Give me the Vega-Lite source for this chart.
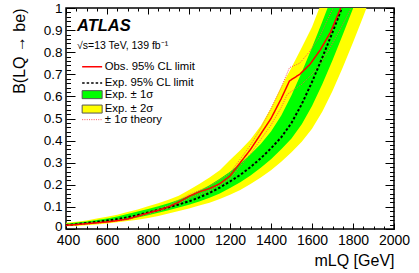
{
  "$schema": "https://vega.github.io/schema/vega-lite/v6.json",
  "width": 328,
  "height": 221,
  "autosize": {"type": "none"},
  "padding": {"left": 66, "top": 8, "right": 25, "bottom": 44},
  "background": "white",
  "config": {
    "font": "Liberation Sans",
    "view": {"stroke": "black", "strokeWidth": 1.5},
    "axis": {"grid": false, "domain": false, "tickColor": "black", "labelColor": "black", "titleColor": "black", "labelFont": "Liberation Sans", "titleFont": "Liberation Sans", "labelFontSize": 14, "titleFontSize": 15, "titleFontWeight": "normal", "tickWidth": 1, "labelOverlap": false, "labelFlush": false},
    "legend": {"orient": "none", "padding": 0, "labelFont": "Liberation Sans", "labelFontSize": 11.3, "labelColor": "black"}
  },
  "title": {"text": "ATLAS", "subtitle": "√s=13 TeV, 139 fb⁻¹", "anchor": "start", "frame": "group", "offset": -50, "dx": 11, "font": "Liberation Sans", "fontSize": 16.5, "fontStyle": "italic", "fontWeight": "bold", "color": "black", "subtitleFont": "Liberation Sans", "subtitleFontSize": 10.5, "subtitleColor": "black", "subtitlePadding": 6},
  "datasets": {
    "bands": [
      {"m": 400, "e": 0.018, "u1": 0.024, "l1": 0.015, "u2": 0.028, "l2": 0.012},
      {"m": 450, "e": 0.022, "u1": 0.029, "l1": 0.018, "u2": 0.033, "l2": 0.014},
      {"m": 500, "e": 0.027, "u1": 0.034, "l1": 0.022, "u2": 0.039, "l2": 0.017},
      {"m": 550, "e": 0.032, "u1": 0.041, "l1": 0.026, "u2": 0.047, "l2": 0.020},
      {"m": 600, "e": 0.038, "u1": 0.048, "l1": 0.031, "u2": 0.055, "l2": 0.025},
      {"m": 650, "e": 0.045, "u1": 0.057, "l1": 0.037, "u2": 0.065, "l2": 0.030},
      {"m": 700, "e": 0.053, "u1": 0.068, "l1": 0.044, "u2": 0.077, "l2": 0.036},
      {"m": 750, "e": 0.063, "u1": 0.079, "l1": 0.052, "u2": 0.088, "l2": 0.042},
      {"m": 800, "e": 0.075, "u1": 0.091, "l1": 0.062, "u2": 0.103, "l2": 0.050},
      {"m": 850, "e": 0.086, "u1": 0.103, "l1": 0.074, "u2": 0.117, "l2": 0.059},
      {"m": 900, "e": 0.098, "u1": 0.117, "l1": 0.085, "u2": 0.132, "l2": 0.070},
      {"m": 950, "e": 0.111, "u1": 0.132, "l1": 0.097, "u2": 0.151, "l2": 0.082},
      {"m": 1000, "e": 0.125, "u1": 0.151, "l1": 0.110, "u2": 0.177, "l2": 0.093},
      {"m": 1050, "e": 0.143, "u1": 0.173, "l1": 0.124, "u2": 0.204, "l2": 0.106},
      {"m": 1100, "e": 0.163, "u1": 0.198, "l1": 0.141, "u2": 0.233, "l2": 0.119},
      {"m": 1150, "e": 0.187, "u1": 0.227, "l1": 0.161, "u2": 0.266, "l2": 0.136},
      {"m": 1200, "e": 0.215, "u1": 0.259, "l1": 0.185, "u2": 0.312, "l2": 0.155},
      {"m": 1250, "e": 0.245, "u1": 0.296, "l1": 0.212, "u2": 0.356, "l2": 0.177},
      {"m": 1300, "e": 0.280, "u1": 0.338, "l1": 0.242, "u2": 0.405, "l2": 0.204},
      {"m": 1350, "e": 0.320, "u1": 0.385, "l1": 0.277, "u2": 0.467, "l2": 0.233},
      {"m": 1400, "e": 0.365, "u1": 0.441, "l1": 0.316, "u2": 0.548, "l2": 0.266},
      {"m": 1450, "e": 0.415, "u1": 0.514, "l1": 0.361, "u2": 0.645, "l2": 0.304},
      {"m": 1500, "e": 0.480, "u1": 0.605, "l1": 0.410, "u2": 0.731, "l2": 0.347},
      {"m": 1550, "e": 0.565, "u1": 0.709, "l1": 0.474, "u2": 0.821, "l2": 0.395},
      {"m": 1600, "e": 0.665, "u1": 0.821, "l1": 0.557, "u2": 0.914, "l2": 0.454},
      {"m": 1650, "e": 0.775, "u1": 0.938, "l1": 0.655, "u2": 1.034, "l2": 0.531},
      {"m": 1700, "e": 0.890, "u1": 1.058, "l1": 0.764, "u2": 1.154, "l2": 0.625},
      {"m": 1750, "e": 1.010, "u1": 1.178, "l1": 0.879, "u2": 1.274, "l2": 0.731},
      {"m": 1800, "e": 1.130, "u1": 1.298, "l1": 0.998, "u2": 1.394, "l2": 0.844},
      {"m": 1850, "e": 1.250, "u1": 1.418, "l1": 1.118, "u2": 1.514, "l2": 0.962},
      {"m": 1900, "e": 1.370, "u1": 1.538, "l1": 1.238, "u2": 1.634, "l2": 1.082},
      {"m": 1950, "e": 1.490, "u1": 1.658, "l1": 1.358, "u2": 1.754, "l2": 1.202},
      {"m": 2000, "e": 1.610, "u1": 1.778, "l1": 1.478, "u2": 1.874, "l2": 1.322}
    ],
    "lines": [
      {"part": "obs", "m": 400, "b": 0.017},
      {"part": "obs", "m": 450, "b": 0.020},
      {"part": "obs", "m": 500, "b": 0.024},
      {"part": "obs", "m": 550, "b": 0.028},
      {"part": "obs", "m": 600, "b": 0.032},
      {"part": "obs", "m": 650, "b": 0.038},
      {"part": "obs", "m": 700, "b": 0.045},
      {"part": "obs", "m": 750, "b": 0.058},
      {"part": "obs", "m": 800, "b": 0.072},
      {"part": "obs", "m": 850, "b": 0.085},
      {"part": "obs", "m": 900, "b": 0.100},
      {"part": "obs", "m": 950, "b": 0.122},
      {"part": "obs", "m": 1000, "b": 0.148},
      {"part": "obs", "m": 1050, "b": 0.168},
      {"part": "obs", "m": 1100, "b": 0.183},
      {"part": "obs", "m": 1150, "b": 0.205},
      {"part": "obs", "m": 1200, "b": 0.240},
      {"part": "obs", "m": 1250, "b": 0.300},
      {"part": "obs", "m": 1300, "b": 0.360},
      {"part": "obs", "m": 1350, "b": 0.430},
      {"part": "obs", "m": 1400, "b": 0.500},
      {"part": "obs", "m": 1450, "b": 0.590},
      {"part": "obs", "m": 1490, "b": 0.670},
      {"part": "obs", "m": 1540, "b": 0.700},
      {"part": "obs", "m": 1590, "b": 0.745},
      {"part": "obs", "m": 1640, "b": 0.810},
      {"part": "obs", "m": 1690, "b": 0.890},
      {"part": "obs", "m": 1740, "b": 1.000},
      {"part": "obs", "m": 1760, "b": 1.040},
      {"part": "tu", "m": 400, "b": 0.018},
      {"part": "tu", "m": 500, "b": 0.026},
      {"part": "tu", "m": 600, "b": 0.034},
      {"part": "tu", "m": 700, "b": 0.048},
      {"part": "tu", "m": 800, "b": 0.076},
      {"part": "tu", "m": 900, "b": 0.106},
      {"part": "tu", "m": 1000, "b": 0.156},
      {"part": "tu", "m": 1100, "b": 0.193},
      {"part": "tu", "m": 1200, "b": 0.253},
      {"part": "tu", "m": 1250, "b": 0.316},
      {"part": "tu", "m": 1300, "b": 0.380},
      {"part": "tu", "m": 1350, "b": 0.455},
      {"part": "tu", "m": 1400, "b": 0.545},
      {"part": "tu", "m": 1450, "b": 0.640},
      {"part": "tu", "m": 1490, "b": 0.730},
      {"part": "tu", "m": 1540, "b": 0.750},
      {"part": "tu", "m": 1590, "b": 0.805},
      {"part": "tu", "m": 1640, "b": 0.875},
      {"part": "tu", "m": 1700, "b": 0.995},
      {"part": "tu", "m": 1720, "b": 1.040},
      {"part": "td", "m": 400, "b": 0.016},
      {"part": "td", "m": 500, "b": 0.022},
      {"part": "td", "m": 600, "b": 0.030},
      {"part": "td", "m": 700, "b": 0.042},
      {"part": "td", "m": 800, "b": 0.068},
      {"part": "td", "m": 900, "b": 0.094},
      {"part": "td", "m": 1000, "b": 0.140},
      {"part": "td", "m": 1100, "b": 0.173},
      {"part": "td", "m": 1200, "b": 0.227},
      {"part": "td", "m": 1250, "b": 0.284},
      {"part": "td", "m": 1300, "b": 0.340},
      {"part": "td", "m": 1350, "b": 0.405},
      {"part": "td", "m": 1400, "b": 0.470},
      {"part": "td", "m": 1450, "b": 0.550},
      {"part": "td", "m": 1480, "b": 0.610},
      {"part": "td", "m": 1550, "b": 0.655},
      {"part": "td", "m": 1600, "b": 0.700},
      {"part": "td", "m": 1650, "b": 0.760},
      {"part": "td", "m": 1700, "b": 0.840},
      {"part": "td", "m": 1750, "b": 0.925},
      {"part": "td", "m": 1790, "b": 1.000},
      {"part": "td", "m": 1800, "b": 1.020}
    ]
  },
  "layer": [
    {
      "data": {"name": "bands"},
      "mark": {"type": "area", "clip": true},
      "encoding": {
        "x": {"field": "m", "type": "quantitative", "scale": {"domain": [400, 2000]},
          "axis": {"orient": "bottom", "title": "mLQ [GeV]", "values": [400,450,500,550,600,650,700,750,800,850,900,950,1000,1050,1100,1150,1200,1250,1300,1350,1400,1450,1500,1550,1600,1650,1700,1750,1800,1850,1900,1950,2000],
            "tickSize": {"condition": {"test": "datum.value % 200 === 0", "value": -6}, "value": -3},
            "format": "d", "labelExpr": "datum.value % 200 === 0 ? datum.label : ''", "labelPadding": 10.5,
            "labelOffset": {"condition": {"test": "datum.value === 400", "value": 2}, "value": 0},
            "titleX": 328, "titleY": 36, "titleAlign": "right", "titleBaseline": "alphabetic", "titleFontSize": 16}},
        "y": {"field": "u2", "type": "quantitative", "scale": {"domain": [0, 1]},
          "axis": {"orient": "left", "title": "B(LQ → be)", "values": [0,0.02,0.04,0.06,0.08,0.1,0.12,0.14,0.16,0.18,0.2,0.22,0.24,0.26,0.28,0.3,0.32,0.34,0.36,0.38,0.4,0.42,0.44,0.46,0.48,0.5,0.52,0.54,0.56,0.58,0.6,0.62,0.64,0.66,0.68,0.7,0.72,0.74,0.76,0.78,0.8,0.82,0.84,0.86,0.88,0.9,0.92,0.94,0.96,0.98,1],
            "tickSize": {"condition": {"test": "abs(datum.value*10 - round(datum.value*10)) < 0.001", "value": -9}, "value": -4.5},
            "format": ".1~f", "labelExpr": "abs(datum.value*10 - round(datum.value*10)) < 0.001 ? datum.label : ''", "labelPadding": 13, "labelFontSize": 13.5,
            "labelOffset": {"condition": {"test": "datum.value === 0", "value": -3}, "value": 0},
            "titleX": -47, "titleY": 0, "titleAngle": -90, "titleAlign": "right", "titleBaseline": "middle", "titleFontSize": 16}},
        "y2": {"field": "l2"},
        "fill": {"datum": "Exp. ± 2σ", "type": "nominal", "scale": {"domain": ["Exp. ± 1σ", "Exp. ± 2σ"], "range": ["#00ff00", "#ffff00"]},
          "legend": {"title": null, "legendX": 20.5, "legendY": 81, "symbolType": "M-2.5,-1H2.5V1H-2.5Z", "symbolSize": 64, "symbolStrokeColor": "#555555", "symbolStrokeWidth": 1, "rowPadding": 1.4, "labelOffset": 7}}
      }
    },
    {
      "data": {"name": "bands"},
      "mark": {"type": "area", "clip": true},
      "encoding": {
        "x": {"field": "m", "type": "quantitative", "scale": {"domain": [400, 2000]}, "axis": null},
        "y": {"field": "u1", "type": "quantitative", "scale": {"domain": [0, 1]}, "axis": null},
        "y2": {"field": "l1"},
        "fill": {"datum": "Exp. ± 1σ", "type": "nominal", "scale": {"domain": ["Exp. ± 1σ", "Exp. ± 2σ"], "range": ["#00ff00", "#ffff00"]},
          "legend": {"title": null, "legendX": 20.5, "legendY": 81, "symbolType": "M-2.5,-1H2.5V1H-2.5Z", "symbolSize": 64, "symbolStrokeColor": "#555555", "symbolStrokeWidth": 1, "rowPadding": 1.4, "labelOffset": 7}}
      }
    },
    {
      "data": {"name": "lines"},
      "transform": [{"filter": "datum.part !== 'obs'"}],
      "mark": {"type": "line", "clip": true, "strokeWidth": 1, "strokeDash": [1, 1.3]},
      "encoding": {
        "x": {"field": "m", "type": "quantitative", "scale": {"domain": [400, 2000]}, "axis": null},
        "y": {"field": "b", "type": "quantitative", "scale": {"domain": [0, 1]}, "axis": null},
        "detail": {"field": "part"},
        "color": {"datum": "± 1σ theory", "type": "nominal", "scale": {"domain": ["± 1σ theory"], "range": ["#ff5050"]},
          "legend": {"title": null, "legendX": 20.5, "legendY": 106, "symbolType": "M-2.5,0H2.5", "symbolSize": 64, "symbolStrokeWidth": 1, "symbolDash": [1, 1.3], "labelOffset": 7}}
      }
    },
    {
      "data": {"name": "bands"},
      "mark": {"type": "line", "clip": true, "strokeWidth": 2},
      "encoding": {
        "x": {"field": "m", "type": "quantitative", "scale": {"domain": [400, 2000]},
          "axis": {"orient": "top", "title": null, "labels": false, "values": [400,450,500,550,600,650,700,750,800,850,900,950,1000,1050,1100,1150,1200,1250,1300,1350,1400,1450,1500,1550,1600,1650,1700,1750,1800,1850,1900,1950,2000],
            "tickSize": {"condition": {"test": "datum.value % 200 === 0", "value": -6}, "value": -3}}},
        "y": {"field": "e", "type": "quantitative", "scale": {"domain": [0, 1]},
          "axis": {"orient": "right", "title": null, "labels": false, "values": [0,0.02,0.04,0.06,0.08,0.1,0.12,0.14,0.16,0.18,0.2,0.22,0.24,0.26,0.28,0.3,0.32,0.34,0.36,0.38,0.4,0.42,0.44,0.46,0.48,0.5,0.52,0.54,0.56,0.58,0.6,0.62,0.64,0.66,0.68,0.7,0.72,0.74,0.76,0.78,0.8,0.82,0.84,0.86,0.88,0.9,0.92,0.94,0.96,0.98,1],
            "tickSize": {"condition": {"test": "abs(datum.value*10 - round(datum.value*10)) < 0.001", "value": -9}, "value": -4.5}}},
        "stroke": {"datum": "Exp. 95% CL limit", "type": "nominal", "scale": {"domain": ["Obs. 95% CL limit", "Exp. 95% CL limit"], "range": ["#ff0000", "#000000"]},
          "legend": {"title": null, "legendX": 20.5, "legendY": 53, "symbolType": "M-2.5,0H2.5", "symbolSize": 64, "symbolStrokeWidth": 1.5, "rowPadding": 4.4, "labelOffset": 7}},
        "strokeDash": {"datum": "Exp. 95% CL limit", "type": "nominal", "scale": {"domain": ["Obs. 95% CL limit", "Exp. 95% CL limit"], "range": [[1, 0], [2.5, 2]]},
          "legend": {"title": null, "legendX": 20.5, "legendY": 53, "symbolType": "M-2.5,0H2.5", "symbolSize": 64, "symbolStrokeWidth": 1.5, "rowPadding": 4.4, "labelOffset": 7}}
      }
    },
    {
      "data": {"name": "lines"},
      "transform": [{"filter": "datum.part === 'obs'"}],
      "mark": {"type": "line", "clip": true, "strokeWidth": 1.5},
      "encoding": {
        "x": {"field": "m", "type": "quantitative", "scale": {"domain": [400, 2000]}, "axis": null},
        "y": {"field": "b", "type": "quantitative", "scale": {"domain": [0, 1]}, "axis": null},
        "stroke": {"datum": "Obs. 95% CL limit", "type": "nominal", "scale": {"domain": ["Obs. 95% CL limit", "Exp. 95% CL limit"], "range": ["#ff0000", "#000000"]},
          "legend": {"title": null, "legendX": 20.5, "legendY": 53, "symbolType": "M-2.5,0H2.5", "symbolSize": 64, "symbolStrokeWidth": 1.5, "rowPadding": 4.4, "labelOffset": 7}},
        "strokeDash": {"datum": "Obs. 95% CL limit", "type": "nominal", "scale": {"domain": ["Obs. 95% CL limit", "Exp. 95% CL limit"], "range": [[1, 0], [2.5, 2]]},
          "legend": {"title": null, "legendX": 20.5, "legendY": 53, "symbolType": "M-2.5,0H2.5", "symbolSize": 64, "symbolStrokeWidth": 1.5, "rowPadding": 4.4, "labelOffset": 7}}
      }
    }
  ],
  "resolve": {"axis": {"x": "independent", "y": "independent"}}
}
